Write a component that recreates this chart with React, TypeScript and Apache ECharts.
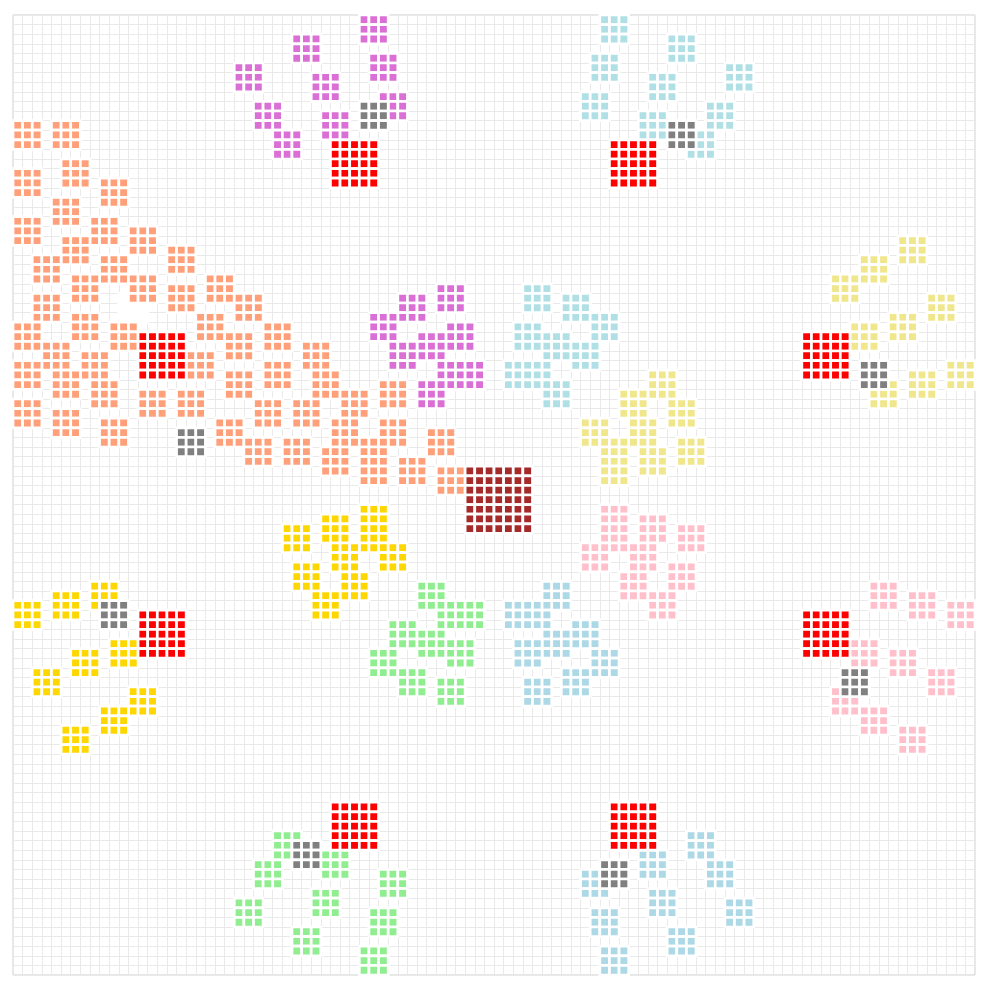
import React, { useEffect, useRef } from "react";
import * as echarts from "echarts";

// Grid: 100 x 100 cells, each block given by its top-left [col, row]
const GRID_COLS = 100;
const GRID_ROWS = 100;

const whiteBlocks = [[11, 29]];

const salmonBlocks = [
  [0, 11], [4, 11], [5, 15], [0, 16], [9, 17], [4, 19], [0, 21], [8, 21], [12, 22], [5, 23],
  [16, 24], [2, 25], [9, 25], [6, 27], [12, 27], [20, 27], [16, 28], [2, 29], [23, 29], [6, 31],
  [19, 31], [10, 32], [0, 32], [26, 32], [22, 33], [3, 34], [18, 35], [30, 34], [7, 35], [0, 36],
  [4, 37], [26, 36], [22, 37], [8, 38], [31, 37], [13, 39], [17, 39], [34, 39], [38, 38], [0, 40],
  [25, 40], [29, 40], [4, 41], [21, 42], [9, 42], [33, 42], [38, 42], [43, 43], [24, 44], [28, 44],
  [36, 44], [36, 46], [32, 45], [40, 46], [44, 47],
];

const orchidBlocks = [
  [36, 0], [29, 2], [37, 4], [23, 5], [31, 6], [38, 8], [25, 9], [32, 10], [27, 12],
  [44, 28], [40, 29], [37, 31], [45, 32], [42, 33], [39, 34], [44, 36], [46, 36], [42, 38],
];

const powderBlueBlocks = [
  [61, 0], [68, 2], [60, 4], [74, 5], [66, 6], [59, 8], [72, 9], [65, 10], [70, 12],
  [53, 28], [57, 29], [60, 31], [52, 32], [55, 33], [58, 34], [51, 36], [53, 36], [55, 38],
];

const lightBlueBlocks = [
  [55, 59], [51, 61], [53, 61], [58, 63], [55, 64], [52, 65], [60, 66], [57, 68], [53, 69],
  [70, 85], [65, 87], [72, 88], [59, 89], [66, 91], [74, 92], [60, 93], [68, 95], [61, 97],
];

const khakiBlocks = [
  [92, 23], [88, 25], [85, 27], [95, 29], [91, 31], [87, 32], [97, 36], [93, 37], [89, 38],
  [66, 37], [63, 39], [68, 40], [59, 42], [64, 42], [61, 44], [69, 44], [65, 45], [61, 46],
];

const pinkBlocks = [
  [89, 59], [93, 60], [97, 61], [87, 65], [91, 66], [95, 68], [85, 70], [88, 72], [92, 74],
  [61, 51], [65, 52], [69, 53], [61, 53], [59, 55], [64, 55], [68, 57], [63, 58], [66, 60],
];

const goldBlocks = [
  [8, 59], [4, 60], [0, 61], [10, 65], [6, 66], [2, 68], [12, 70], [9, 72], [5, 74],
  [36, 51], [32, 52], [28, 53], [36, 53], [33, 55], [38, 55], [29, 57], [34, 58], [31, 60],
];

const greenBlocks = [
  [42, 59], [44, 61], [46, 61], [39, 63], [42, 64], [45, 65], [37, 66], [40, 68], [44, 69],
  [27, 85], [32, 87], [25, 88], [38, 89], [31, 91], [23, 92], [37, 93], [29, 95], [36, 97],
];

const grayBlocks = [[36, 9], [68, 11], [88, 36], [17, 43], [9, 61], [86, 68], [61, 88], [29, 86]];

const redBlocks = [[33, 13], [62, 13], [13, 33], [82, 33], [13, 62], [82, 62], [33, 82], [62, 82]];

const rootBlocks = [[47, 47]];

const groups = [
  { name: "white", color: "#ffffff", size: 3, blocks: whiteBlocks },
  { name: "salmon", color: "#FFA07A", size: 3, blocks: salmonBlocks },
  { name: "orchid", color: "#DA70D6", size: 3, blocks: orchidBlocks },
  { name: "powderblue", color: "#B0E0E6", size: 3, blocks: powderBlueBlocks },
  { name: "lightblue", color: "#ADD8E6", size: 3, blocks: lightBlueBlocks },
  { name: "khaki", color: "#F0E68C", size: 3, blocks: khakiBlocks },
  { name: "pink", color: "#FFC0CB", size: 3, blocks: pinkBlocks },
  { name: "gold", color: "#FFD700", size: 3, blocks: goldBlocks },
  { name: "lightgreen", color: "#90EE90", size: 3, blocks: greenBlocks },
  { name: "gray", color: "#808080", size: 3, blocks: grayBlocks },
  { name: "red", color: "#FF0000", size: 5, blocks: redBlocks },
  { name: "root", color: "#A52A2A", size: 7, blocks: rootBlocks },
];

function expand(blocks: number[][], size: number) {
  const cells: number[][] = [];
  blocks.forEach(([c, r]) => {
    for (let dy = 0; dy < size; dy++) {
      for (let dx = 0; dx < size; dx++) cells.push([c + dx, r + dy]);
    }
  });
  return cells;
}

export default function App() {
  const ref = useRef<HTMLDivElement>(null);
  useEffect(() => {
    if (!ref.current) return;
    const chart = echarts.init(ref.current, null, { renderer: "svg" });
    const series = groups.map((g) => ({
      type: "custom",
      name: g.name,
      data: expand(g.blocks, g.size),
      renderItem: (params: any, api: any) => {
        const c = api.value(0);
        const r = api.value(1);
        const p0 = api.coord([c, r]);
        const p1 = api.coord([c + 1, r + 1]);
        return {
          type: "rect",
          shape: { x: p0[0], y: p0[1], width: p1[0] - p0[0], height: p1[1] - p0[1] },
          style: { fill: g.color, stroke: "#ffffff", lineWidth: 2.7 },
        };
      },
      silent: true,
    }));
    chart.setOption({
      animation: false,
      grid: {
        left: 13,
        top: 15,
        width: 962,
        height: 960,
        show: true,
        borderColor: "#cccccc",
        borderWidth: 1,
        backgroundColor: "transparent",
      },
      xAxis: {
        type: "value",
        min: 0,
        max: GRID_COLS,
        interval: 1,
        axisLine: { show: false },
        axisTick: { show: false },
        axisLabel: { show: false },
        splitLine: { show: true, lineStyle: { color: "#e9e9e9", width: 1 } },
      },
      yAxis: {
        type: "value",
        min: 0,
        max: GRID_ROWS,
        interval: 1,
        inverse: true,
        axisLine: { show: false },
        axisTick: { show: false },
        axisLabel: { show: false },
        splitLine: { show: true, lineStyle: { color: "#e9e9e9", width: 1 } },
      },
      series,
    });
    return () => chart.dispose();
  }, []);
  return (
    <div
      ref={ref}
      style={{ position: "absolute", left: 0, top: 0, width: 987, height: 990, background: "#fff" }}
    />
  );
}
